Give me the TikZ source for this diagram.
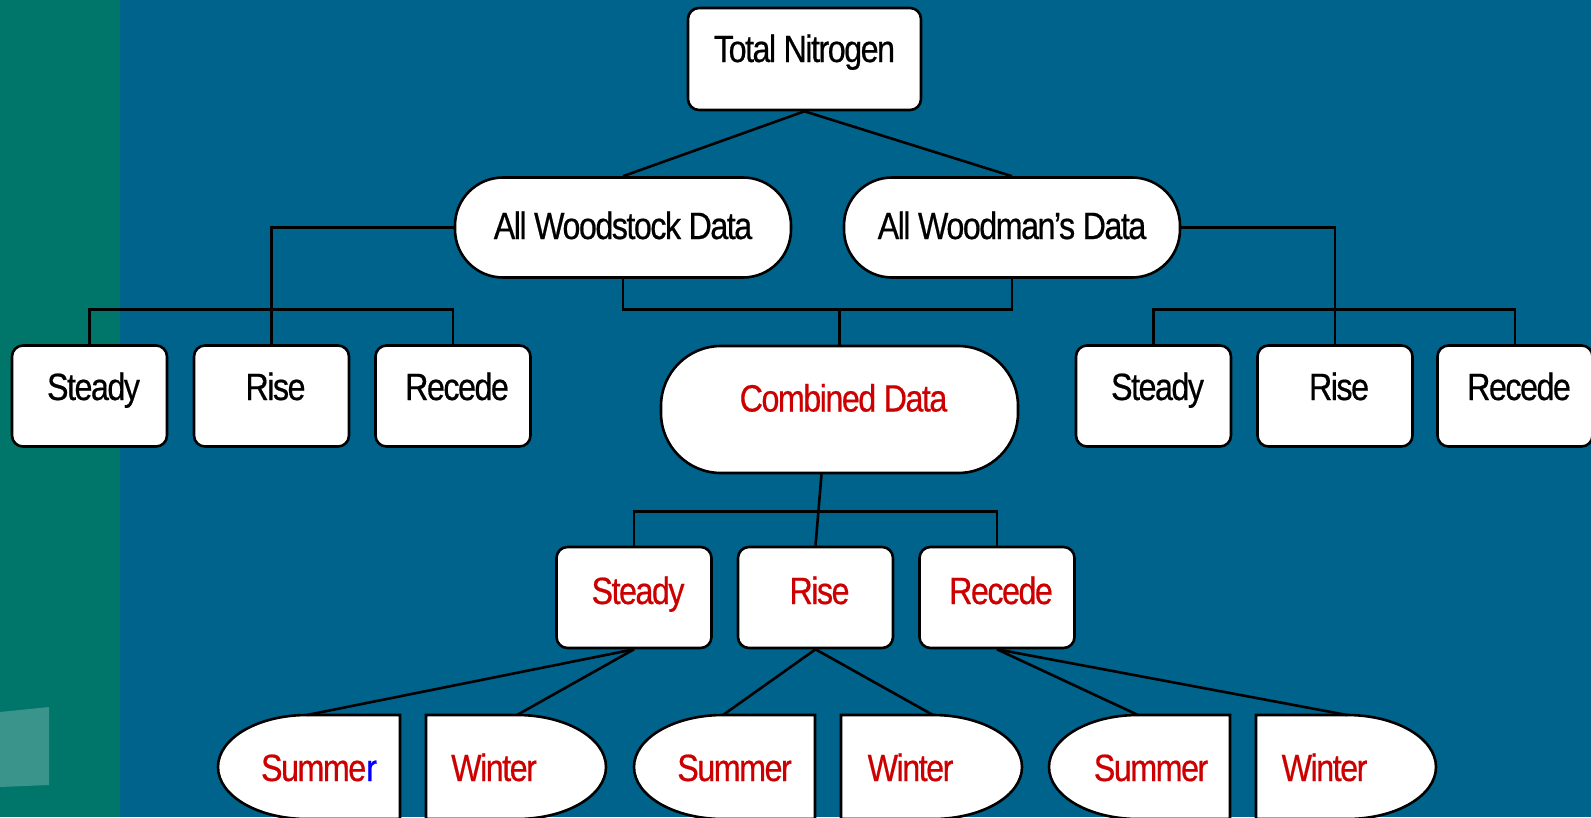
\documentclass[tikz,border=0pt]{standalone}
\usepackage{fontspec}
\newfontfamily\tnfont[FakeStretch=0.85,LetterSpace=-4,FakeBold=0.5]{Liberation Sans}
\definecolor{bgblue}{RGB}{0,99,140}
\definecolor{bgteal}{RGB}{0,118,106}
\definecolor{patchteal}{RGB}{58,148,140}
\definecolor{tred}{RGB}{204,0,0}
\definecolor{tblue}{RGB}{0,0,255}
\begin{document}
\begin{tikzpicture}[x=1pt,y=1pt,
  conn/.style={draw=black,line width=2.6pt},
  basebox/.style={draw=black,line width=2.6pt,fill=white,inner sep=0pt,text height=28pt,font=\tnfont\fontsize{38}{40}\selectfont},
  sqbox/.style={basebox,rounded corners=11pt,minimum width=155pt,minimum height=101pt},
  pillbox/.style={basebox,rounded corners=48pt,minimum width=336pt,minimum height=100pt},
  nudge/.style={execute at begin node={\hspace*{8pt}}},
  halfshape/.style={draw=black,line width=2.6pt,fill=white},
  lbl/.style={inner sep=0pt,text=tred,font=\tnfont\fontsize{38}{40}\selectfont},
  redtext/.style={text=tred}]
\useasboundingbox (0,0) rectangle (1591,-817);
% background
\fill[bgblue] (0,0) rectangle (1591,-817);
\fill[bgteal] (0,0) rectangle (119.5,-817);
\fill[patchteal] (0,-712) -- (49,-707) -- (49,-785) -- (0,-787) -- cycle;

% nodes
\node[sqbox,minimum width=233pt,minimum height=102pt,text depth=22pt] (tn) at (804.5,-59) {Total Nitrogen};
\node[pillbox,text depth=5pt] (ws) at (623,-227.5) {All Woodstock Data};
\node[pillbox,text depth=5pt] (wm) at (1012,-227.5) {All Woodman’s Data};

\node[sqbox,nudge,text depth=20pt] (ls) at (89.5,-396) {Steady};
\node[sqbox,nudge,text depth=20pt] (lri) at (271.5,-396) {Rise};
\node[sqbox,nudge,text depth=20pt] (lrc) at (453,-396) {Recede};

\node[sqbox,nudge,text depth=20pt] (rs) at (1153.5,-396) {Steady};
\node[sqbox,nudge,text depth=20pt] (rri) at (1335,-396) {Rise};
\node[sqbox,nudge,text depth=20pt] (rrc) at (1515,-396) {Recede};

\node[basebox,redtext,nudge,rounded corners=60pt,minimum width=357pt,minimum height=127pt,text depth=24pt] (comb) at (839.5,-409.5) {Combined Data};

\node[sqbox,redtext,nudge,text depth=15pt] (st2) at (634,-597.5) {Steady};
\node[sqbox,redtext,nudge,text depth=15pt] (ri2) at (815.5,-597.5) {Rise};
\node[sqbox,redtext,nudge,text depth=15pt] (rc2) at (997,-597.5) {Recede};

% bottom half-oval shapes
\path[halfshape] (400,-715) -- (307,-715) arc[start angle=90,end angle=270,x radius=89pt,y radius=52pt] -- (400,-819) -- cycle;
\path[halfshape] (426,-715) -- (517,-715) arc[start angle=90,end angle=-90,x radius=89pt,y radius=52pt] -- (426,-819) -- cycle;
\path[halfshape] (815,-715) -- (723,-715) arc[start angle=90,end angle=270,x radius=89pt,y radius=52pt] -- (815,-819) -- cycle;
\path[halfshape] (841,-715) -- (933,-715) arc[start angle=90,end angle=-90,x radius=89pt,y radius=52pt] -- (841,-819) -- cycle;
\path[halfshape] (1230,-715) -- (1138,-715) arc[start angle=90,end angle=270,x radius=89pt,y radius=52pt] -- (1230,-819) -- cycle;
\path[halfshape] (1256,-715) -- (1347,-715) arc[start angle=90,end angle=-90,x radius=89pt,y radius=52pt] -- (1256,-819) -- cycle;

\coordinate (p1a) at (307,-715);
\coordinate (p1b) at (517,-715);
\coordinate (p2a) at (723,-715);
\coordinate (p2b) at (933,-715);
\coordinate (p3a) at (1138,-715);
\coordinate (p3b) at (1347,-715);

\node[lbl,anchor=base] (s1) at (319,-781) {Summe\textcolor{tblue}{r}};
\node[lbl,anchor=base] (w1) at (494,-781) {Winter};
\node[lbl,anchor=base] (s2) at (734.5,-781) {Summer};
\node[lbl,anchor=base] (w2) at (910.5,-781) {Winter};
\node[lbl,anchor=base] (s3) at (1151,-781) {Summer};
\node[lbl,anchor=base] (w3) at (1324.5,-781) {Winter};

% connectors
\draw[conn] (tn.south) -- (ws.north);
\draw[conn] (tn.south) -- (wm.north);
\draw[conn] (ws.west) -| (lri.north);
\draw[conn] (ls.north) |- ([yshift=35pt]lri.north) -| (lrc.north);
\draw[conn] (wm.east) -| (rri.north);
\draw[conn] (rs.north) |- ([yshift=35pt]rri.north) -| (rrc.north);
\draw[conn] (ws.south) |- ([yshift=35pt]comb.north) -| (wm.south);
\draw[conn] (comb.north) -- ([yshift=35pt]comb.north);
\draw[conn] ([xshift=-18pt]comb.south) -- (ri2.north);
\draw[conn] (st2.north) |- ([yshift=34pt]ri2.north) -| (rc2.north);
\draw[conn] (st2.south) -- (p1a);
\draw[conn] (st2.south) -- (p1b);
\draw[conn] (ri2.south) -- (p2a);
\draw[conn] (ri2.south) -- (p2b);
\draw[conn] (rc2.south) -- (p3a);
\draw[conn] (rc2.south) -- (p3b);
\end{tikzpicture}
\end{document}
